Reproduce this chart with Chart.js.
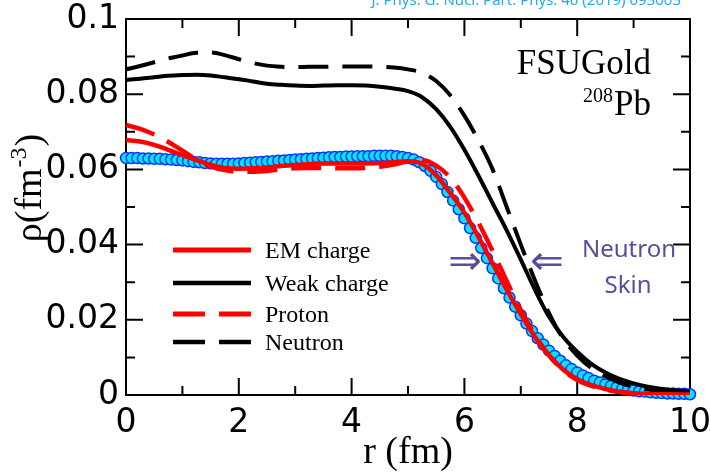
<!DOCTYPE html>
<html>
<head>
<meta charset="utf-8">
<script src="https://cdn.jsdelivr.net/npm/chart.js@4.4.0/dist/chart.umd.min.js"></script>
<style>
html, body { margin: 0; padding: 0; background: #fff; }
</style>
</head>
<body>
<canvas id="myChart" width="710" height="473"></canvas>
<script>
// radius grid for the model curves (fm)
const rModel = [0, 0.25, 0.5, 0.75, 1, 1.25, 1.5, 1.75, 2, 2.25, 2.5, 2.75, 3, 3.25, 3.5, 3.75,
    4, 4.25, 4.5, 4.75, 5, 5.25, 5.5, 5.75, 6, 6.25, 6.5, 6.75, 7, 7.25, 7.5, 7.75,
    8, 8.25, 8.5, 8.75, 9, 9.25, 9.5, 9.75, 10];

const emCharge = [0.0678, 0.0674, 0.0665, 0.0652, 0.0638, 0.0625, 0.0612, 0.0604, 0.0602, 0.0603, 0.0605, 0.0609, 0.0612, 0.0614, 0.0616, 0.0616,
    0.0616, 0.0616, 0.0617, 0.0619, 0.0622, 0.0615, 0.0584, 0.0537, 0.0485, 0.0420, 0.0350, 0.0280, 0.0215, 0.0155, 0.0105, 0.0068,
    0.0042, 0.0026, 0.0016, 0.0009, 0.0005, 0.0003, 0.0002, 0.0001, 0.0001];

const weakCharge = [0.0838, 0.0841, 0.0845, 0.0849, 0.0851, 0.0852, 0.0850, 0.0845, 0.0840, 0.0834, 0.0828, 0.0825, 0.0823, 0.0822, 0.0823, 0.0824,
    0.0824, 0.0823, 0.0820, 0.0815, 0.0808, 0.0792, 0.0760, 0.0713, 0.0652, 0.0583, 0.0510, 0.0438, 0.0360, 0.0280, 0.0208, 0.0155,
    0.0115, 0.0083, 0.0060, 0.0043, 0.0031, 0.0022, 0.0016, 0.0012, 0.0009];

const proton = [0.0718, 0.0708, 0.0693, 0.0673, 0.0650, 0.0627, 0.0608, 0.0598, 0.0594, 0.0594, 0.0596, 0.0600, 0.0603, 0.0604, 0.0604, 0.0603,
    0.0603, 0.0604, 0.0607, 0.0613, 0.0622, 0.0625, 0.0610, 0.0578, 0.0525, 0.0458, 0.0383, 0.0303, 0.0226, 0.0160, 0.0106, 0.0066,
    0.0040, 0.0024, 0.0014, 0.0008, 0.0004, 0.0002, 0.0001, 0.0001, 0.0000];

const neutron = [0.0866, 0.0875, 0.0885, 0.0895, 0.0903, 0.0910, 0.0911, 0.0904, 0.0893, 0.0883, 0.0876, 0.0873, 0.0872, 0.0873, 0.0873, 0.0874,
    0.0874, 0.0874, 0.0873, 0.0871, 0.0866, 0.0857, 0.0835, 0.0797, 0.0743, 0.0677, 0.0600, 0.0500, 0.0400, 0.0305, 0.0218, 0.0150,
    0.0105, 0.0072, 0.0050, 0.0033, 0.0022, 0.0015, 0.0010, 0.0006, 0.0004];

// experimental charge density (circles)
const rExp = [0, 0.1, 0.2, 0.3, 0.4, 0.5, 0.6, 0.7, 0.8, 0.9, 1, 1.1, 1.2, 1.3, 1.4, 1.5, 1.6, 1.7, 1.8, 1.9,
    2, 2.1, 2.2, 2.3, 2.4, 2.5, 2.6, 2.7, 2.8, 2.9, 3, 3.1, 3.2, 3.3, 3.4, 3.5, 3.6, 3.7, 3.8, 3.9,
    4, 4.1, 4.2, 4.3, 4.4, 4.5, 4.6, 4.7, 4.8, 4.9, 5, 5.1, 5.2, 5.3, 5.4, 5.5, 5.6, 5.7, 5.8, 5.9,
    6, 6.1, 6.2, 6.3, 6.4, 6.5, 6.6, 6.7, 6.8, 6.9, 7, 7.1, 7.2, 7.3, 7.4, 7.5, 7.6, 7.7, 7.8, 7.9,
    8, 8.1, 8.2, 8.3, 8.4, 8.5, 8.6, 8.7, 8.8, 8.9, 9, 9.1, 9.2, 9.3, 9.4, 9.5, 9.6, 9.7, 9.8, 9.9, 10];
const expCharge = [0.0630, 0.0630, 0.0630, 0.0629, 0.0629, 0.0628, 0.0628, 0.0627, 0.0626, 0.0625,
    0.0624, 0.0622, 0.0620, 0.0619, 0.0617, 0.0616, 0.0615, 0.0615, 0.0615, 0.0615,
    0.0616, 0.0617, 0.0618, 0.0619, 0.0620, 0.0621, 0.0622, 0.0623, 0.0624, 0.0625,
    0.0626, 0.0627, 0.0628, 0.0629, 0.0630, 0.0631, 0.0632, 0.0633, 0.0633, 0.0634,
    0.0634, 0.0635, 0.0635, 0.0635, 0.0636, 0.0636, 0.0636, 0.0636, 0.0635, 0.0633,
    0.0630, 0.0626, 0.0619, 0.0609, 0.0596, 0.0580, 0.0561, 0.0540, 0.0517, 0.0494,
    0.0470, 0.0444, 0.0418, 0.0391, 0.0364, 0.0337, 0.0310, 0.0284, 0.0259, 0.0235,
    0.0212, 0.0190, 0.0170, 0.0151, 0.0134, 0.0118, 0.0104, 0.0091, 0.0079, 0.0069,
    0.0060, 0.0052, 0.0045, 0.0038, 0.0033, 0.0028, 0.0024, 0.0020, 0.0017, 0.0014,
    0.0012, 0.0010, 0.0009, 0.0007, 0.0006, 0.0005, 0.0004, 0.0004, 0.0003, 0.0003, 0.0002];

// ticks
const xTicks = [0, 2, 4, 6, 8, 10];
const xTickLabels = ['0', '2', '4', '6', '8', '10'];
const xMinor = [1, 3, 5, 7, 9];
const yTicks = [0, 0.02, 0.04, 0.06, 0.08, 0.1];
const yTickLabels = ['0', '0.02', '0.04', '0.06', '0.08', '0.1'];
const yMinor = [0.01, 0.03, 0.05, 0.07, 0.09];

const pts = (xs, ys) => xs.map((x, i) => ({x: x, y: ys[i]}));
const purple = '#5b4c9e';

const lineStyle = {
    showLine: true,
    pointRadius: 0,
    fill: false,
    cubicInterpolationMode: 'monotone',
    borderCapStyle: 'butt',
};

const data = {
    datasets: [
        Object.assign({label: 'EM charge', data: pts(rModel, emCharge),
            borderColor: 'rgb(255, 0, 0)', borderWidth: 4.5}, lineStyle),
        Object.assign({label: 'Weak charge', data: pts(rModel, weakCharge),
            borderColor: '#000', borderWidth: 4}, lineStyle),
        Object.assign({label: 'Proton', data: pts(rModel, proton),
            borderColor: 'rgb(255, 0, 0)', borderWidth: 4.5, borderDash: [30, 14]}, lineStyle),
        Object.assign({label: 'Neutron', data: pts(rModel, neutron),
            borderColor: '#000', borderWidth: 4, borderDash: [30, 14]}, lineStyle),
        {
            label: 'Experiment',
            data: pts(rExp, expCharge),
            showLine: false,
            pointRadius: 5.5,
            pointBorderWidth: 1.5,
            backgroundColor: 'rgb(0, 230, 255)',
            borderColor: 'rgb(10, 50, 255)',
            clip: false,
        },
    ],
};

function drawText(ctx, text, x, y, font, color, align) {
    ctx.font = font;
    ctx.fillStyle = color;
    ctx.textAlign = align || 'left';
    ctx.textBaseline = 'alphabetic';
    ctx.fillText(text, x, y);
}

const decor = {
    id: 'decor',
    beforeDatasetsDraw(chart) {
        const {ctx, chartArea: a, scales: {x, y}} = chart;
        ctx.save();
        ctx.strokeStyle = '#000';
        ctx.lineWidth = 2;
        ctx.strokeRect(a.left, a.top, a.right - a.left, a.bottom - a.top);
        ctx.beginPath();
        const xt = (v, len) => {
            const px = x.getPixelForValue(v);
            ctx.moveTo(px, a.bottom); ctx.lineTo(px, a.bottom - len);
            ctx.moveTo(px, a.top); ctx.lineTo(px, a.top + len);
        };
        const yt = (v, len) => {
            const py = y.getPixelForValue(v);
            ctx.moveTo(a.left, py); ctx.lineTo(a.left + len, py);
            ctx.moveTo(a.right, py); ctx.lineTo(a.right - len, py);
        };
        xTicks.forEach(v => xt(v, 17));
        xMinor.forEach(v => xt(v, 9));
        yTicks.forEach(v => yt(v, 17));
        yMinor.forEach(v => yt(v, 9));
        ctx.stroke();
        ctx.restore();
    },
    afterDraw(chart) {
        const {ctx, chartArea: a} = chart;
        ctx.save();

        // legend
        const rows = [250, 283, 314, 342];
        chart.data.datasets.slice(0, 4).forEach((ds, i) => {
            ctx.beginPath();
            ctx.strokeStyle = ds.borderColor;
            ctx.lineWidth = ds.borderWidth + 0.5;
            ctx.setLineDash(ds.borderDash ? [32, 14] : []);
            ctx.moveTo(173, rows[i]);
            ctx.lineTo(251, rows[i]);
            ctx.stroke();
            ctx.setLineDash([]);
            drawText(ctx, ds.label, 265, rows[i] + 8, '24px "Liberation Serif"', '#000');
        });

        // nucleus label
        drawText(ctx, 'FSUGold', 651, 74, '35px "Liberation Serif"', '#000', 'right');
        ctx.font = '35px "Liberation Serif"';
        const pbW = ctx.measureText('Pb').width;
        drawText(ctx, 'Pb', 651, 115, '35px "Liberation Serif"', '#000', 'right');
        drawText(ctx, '208', 651 - pbW - 1, 102, '20px "Liberation Serif"', '#000', 'right');

        // neutron skin annotation
        drawText(ctx, 'Neutron', 629, 257, '24px "Noto Sans"', purple, 'center');
        drawText(ctx, 'Skin', 628, 293, '24px "Noto Sans"', purple, 'center');
        ctx.font = '40px "DejaVu Sans"';
        ctx.fillStyle = purple;
        ctx.textAlign = 'center';
        ctx.textBaseline = 'middle';
        ctx.fillText('\u21D2', 465, 264);
        ctx.fillText('\u21D0', 547, 264);

        // axis titles
        drawText(ctx, 'r (fm)', (a.left + a.right) / 2, 463, '38px "Liberation Serif"', '#000', 'center');
        ctx.save();
        ctx.translate(41, 188);
        ctx.rotate(-Math.PI / 2);
        const big = '38px "Liberation Serif"';
        const small = '24px "Liberation Serif"';
        ctx.font = big;
        const w1 = ctx.measureText('\u03C1(fm').width;
        const w3 = ctx.measureText(')').width;
        ctx.font = small;
        const w2 = ctx.measureText('-3').width + 2;
        let sx = -(w1 + w2 + w3) / 2;
        drawText(ctx, '\u03C1(fm', sx, 0, big, '#000');
        drawText(ctx, '-3', sx + w1 + 1, -15, small, '#000');
        drawText(ctx, ')', sx + w1 + w2, 0, big, '#000');
        ctx.restore();

        // citation (cut at the top edge)
        drawText(ctx, 'J. Phys. G: Nucl. Part. Phys. 46 (2019) 093003', 681, 5, '15px "Noto Sans"', 'rgb(41, 171, 226)', 'right');

        ctx.restore();
    }
};

const config = {
    type: 'scatter',
    data: data,
    plugins: [decor],
    options: {
        responsive: false,
        animation: false,
        layout: {padding: {top: 19, right: 20, left: 0, bottom: 0}},
        plugins: {legend: {display: false}, tooltip: {enabled: false}},
        scales: {
            x: {
                type: 'linear',
                min: 0,
                max: 10,
                grid: {display: false},
                border: {display: false},
                afterBuildTicks: s => { s.ticks = xTicks.map(v => ({value: v})); },
                afterFit: s => { s.height = 78; s.paddingLeft = 0; s.paddingRight = 0; },
                ticks: {
                    autoSkip: false,
                    maxRotation: 0,
                    padding: 4,
                    color: '#000',
                    font: {family: 'DejaVu Sans', size: 33, lineHeight: 1},
                    callback: (v, i) => xTickLabels[i],
                },
            },
            y: {
                type: 'linear',
                min: 0,
                max: 0.1,
                grid: {display: false},
                border: {display: false},
                afterBuildTicks: s => { s.ticks = yTicks.map(v => ({value: v})); },
                afterFit: s => { s.width = 126; s.paddingTop = 0; s.paddingBottom = 0; },
                ticks: {
                    autoSkip: false,
                    padding: -1,
                    color: '#000',
                    font: {family: 'DejaVu Sans', size: 33, lineHeight: 1},
                    callback: (v, i) => yTickLabels[i],
                },
            },
        },
    },
};

const myChart = new Chart(document.getElementById('myChart'), config);
</script>
</body>
</html>
